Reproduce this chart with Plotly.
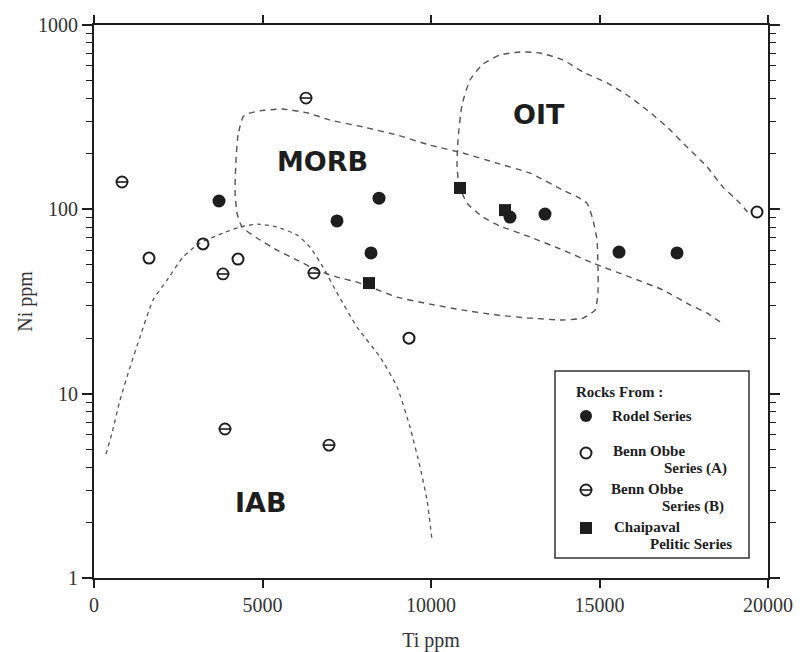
import plotly.graph_objects as go

# ---------------- data ----------------
rodel_ti = [3709, 7211, 8457, 8220, 12344, 13383, 15579, 17300]
rodel_ni = [111, 86.5, 115, 58, 90.8, 94.3, 58.6, 58]

bennA_ti = [1632, 3234, 4273, 9347, 19674]
bennA_ni = [54.4, 64.9, 53.7, 20.0, 96.7]

bennB_ti = [831, 6291, 3828, 6528, 3887, 6973]
bennB_ni = [140.7, 401.6, 44.6, 45.1, 6.43, 5.26]

chai_ti = [10861, 12196, 8160]
chai_ni = [130.6, 99, 39.8]

# field boundaries (Ti ppm, Ni ppm)
iab_ti = [356, 534, 772, 1068, 1365, 1751, 2166, 2641, 3145, 3828, 4332, 4866, 5430,
          6024, 6409, 6795, 7211, 7804, 8487, 8991, 9377, 9674, 9881, 10030]
iab_ni = [4.70, 6.11, 9.22, 13.9, 20.3, 32.2, 41.3, 55.1, 65.6, 74.3, 80.2, 83.2, 80.2,
          72.6, 62.4, 48.6, 35.2, 23.0, 15.8, 10.9, 6.59, 4.00, 2.65, 1.61]

morb_ti = [4421, 4273, 4214, 4184, 4243, 4392, 4837, 5430, 6024, 6617, 7211, 7804, 8279,
           8991, 9970, 10950, 11958, 12938, 13917, 14510, 14866, 14955, 14955, 14926,
           14807, 14629, 14332, 13917, 12938, 11958, 10950, 9970, 8991, 7982, 7003, 6350,
           5579, 4866, 4540, 4421]
morb_ni = [317, 253, 185, 127, 95.5, 80.2, 69.9, 60.1, 53.1, 46.8, 42.9, 40.3, 37.4,
           33.4, 30.6, 28.4, 26.7, 25.7, 25.1, 25.7, 28.4, 35.2, 48.6, 68.1,
           87.5, 108, 117, 127, 157, 178, 202, 223, 253, 280, 305, 333,
           350, 341, 329, 317]

oit_ti = [18576, 18190, 17685, 16884, 15905, 14807, 13917, 12938, 12047, 11543, 11068,
          10831, 10772, 10801, 10920, 11157, 11543, 12047, 12641, 13234, 13917, 14510,
          15223, 15816, 16409, 17003, 17596, 18190, 18665, 19169, 19466]
oit_ni = [24.5, 27.4, 30.3, 36.5, 42.9, 51.1, 60.1, 70.8, 81.2, 90.8, 108,
          135.5, 174, 238, 368, 503, 614, 687, 714, 705, 646, 556,
          485, 417, 346, 280, 218, 170, 132, 108, 93.1]

x_ticks = [0, 5000, 10000, 15000, 20000]
y_ticks = [1, 10, 100, 1000]
y_minor = [2, 3, 4, 5, 6, 7, 8, 9, 20, 30, 40, 50, 60, 70, 80, 90,
           200, 300, 400, 500, 600, 700, 800, 900]

legend_title = "Rocks From :"
legend_labels = ["Rodel Series", "Benn Obbe", "Series (A)", "Benn Obbe", "Series (B)",
                 "Chaipaval", "Pelitic Series"]

INK = "#1e1e1e"
DASH = "#555555"
SERIF = "Liberation Serif, Times New Roman, serif"
SANS = "DejaVu Sans, Arial, sans-serif"

# plot-area pixel geometry (used only to place legend items in paper fractions)
L, R, T, B = 94, 768, 25, 578
def px(x): return (x - L) / (R - L)
def py(y): return (B - y) / (B - T)

fig = go.Figure()

# boundaries
fig.add_trace(go.Scatter(x=iab_ti, y=iab_ni, mode="lines", line=dict(color=DASH, width=1.3, dash="4px,4px",
                         shape="spline", smoothing=0.5), hoverinfo="skip"))
fig.add_trace(go.Scatter(x=morb_ti, y=morb_ni, mode="lines", line=dict(color=DASH, width=1.4, dash="6px,5px",
                         shape="spline", smoothing=0.5), hoverinfo="skip"))
fig.add_trace(go.Scatter(x=oit_ti, y=oit_ni, mode="lines", line=dict(color=DASH, width=1.4, dash="6px,5px",
                         shape="spline", smoothing=0.5), hoverinfo="skip"))

# data points
fig.add_trace(go.Scatter(x=rodel_ti, y=rodel_ni, mode="markers", name="Rodel Series",
                         marker=dict(symbol="circle", size=13, color=INK, line=dict(width=0))))
fig.add_trace(go.Scatter(x=bennA_ti, y=bennA_ni, mode="markers", name="Benn Obbe Series (A)",
                         marker=dict(symbol="circle-open", size=11, color=INK, line=dict(width=2, color=INK))))
fig.add_trace(go.Scatter(x=bennB_ti, y=bennB_ni, mode="markers", name="Benn Obbe Series (B)",
                         marker=dict(symbol="circle-open", size=11, color=INK, line=dict(width=1.8, color=INK))))
fig.add_trace(go.Scatter(x=bennB_ti, y=bennB_ni, mode="markers", hoverinfo="skip",
                         marker=dict(symbol="line-ew", size=9, color=INK, line=dict(width=1.6, color=INK))))
fig.add_trace(go.Scatter(x=chai_ti, y=chai_ni, mode="markers", name="Chaipaval Pelitic Series",
                         marker=dict(symbol="square", size=12, color=INK, line=dict(width=0))))

# legend markers on an overlay axis (0..1 == plot area)
mx = [px(586)]
fig.add_trace(go.Scatter(x=mx, y=[py(416)], xaxis="x2", yaxis="y2", mode="markers",
                         marker=dict(symbol="circle", size=12, color=INK)))
fig.add_trace(go.Scatter(x=mx, y=[py(453)], xaxis="x2", yaxis="y2", mode="markers",
                         marker=dict(symbol="circle-open", size=11, color=INK, line=dict(width=2, color=INK))))
fig.add_trace(go.Scatter(x=mx, y=[py(490)], xaxis="x2", yaxis="y2", mode="markers",
                         marker=dict(symbol="circle-open", size=11, color=INK, line=dict(width=1.8, color=INK))))
fig.add_trace(go.Scatter(x=mx, y=[py(490)], xaxis="x2", yaxis="y2", mode="markers",
                         marker=dict(symbol="line-ew", size=9, color=INK, line=dict(width=1.6, color=INK))))
fig.add_trace(go.Scatter(x=mx, y=[py(528)], xaxis="x2", yaxis="y2", mode="markers",
                         marker=dict(symbol="square", size=12, color=INK)))

annotations = []
# field labels
for txt, xv, yv in [("MORB", 6766, 2.257), ("OIT", 13205, 2.512), ("IAB", 4955, 0.412)]:
    annotations.append(dict(x=xv, y=yv, xref="x", yref="y", text="<b>" + txt + "</b>", showarrow=False,
                            font=dict(family=SANS, size=27, color=INK)))

# legend texts (paper coords)
leg_pos = [(611, 416, "left"), (612, 451, "left"), (728, 468, "right"),
           (610, 489, "left"), (725, 506, "right"), (613, 527, "left"),
           (733, 544, "right")]
annotations.append(dict(x=px(575), y=py(392), xref="paper", yref="paper", text="<b>" + legend_title + "</b>",
                        showarrow=False, xanchor="left", yanchor="middle", borderpad=0,
                        font=dict(family=SERIF, size=15, color=INK)))
for (ax, ay, anc), lab in zip(leg_pos, legend_labels):
    annotations.append(dict(x=px(ax), y=py(ay), xref="paper", yref="paper", text="<b>" + lab + "</b>",
                            showarrow=False, xanchor=anc, yanchor="middle", borderpad=0,
                            font=dict(family=SERIF, size=15, color=INK)))

fig.update_layout(
    width=801, height=652,
    margin=dict(l=L, r=801 - R, t=T, b=652 - B, autoexpand=False),
    paper_bgcolor="white", plot_bgcolor="white",
    showlegend=False,
    font=dict(family=SERIF, size=20, color="#333333"),
    xaxis=dict(range=[0, 20000], tickvals=x_ticks, ticktext=[str(v) for v in x_ticks],
               showgrid=False, zeroline=False, showline=True, linecolor=INK, linewidth=2,
               mirror="allticks", ticks="outside", ticklen=8, tickwidth=1.5, tickcolor=INK,
               automargin=False,
               title=dict(text="Ti ppm", font=dict(family=SERIF, size=20, color="#333333"), standoff=18),
               tickfont=dict(family=SERIF, size=20, color="#333333")),
    yaxis=dict(type="log", range=[0, 3], tickvals=y_ticks, ticktext=[str(v) for v in y_ticks],
               showgrid=False, zeroline=False, showline=True, linecolor=INK, linewidth=2,
               mirror="allticks", ticks="outside", ticklen=10, tickwidth=1.5, tickcolor=INK,
               automargin=False,
               minor=dict(tickvals=y_minor, ticks="outside", ticklen=6, tickwidth=1.3, tickcolor=INK, showgrid=False),
               title=dict(text="Ni ppm", font=dict(family=SERIF, size=20, color="#333333"), standoff=0),
               tickfont=dict(family=SERIF, size=20, color="#333333")),
    xaxis2=dict(range=[0, 1], overlaying="x", visible=False, fixedrange=True),
    yaxis2=dict(range=[0, 1], overlaying="y", visible=False, fixedrange=True),
    annotations=annotations,
    shapes=[dict(type="rect", xref="paper", yref="paper", x0=px(555), x1=px(749), y0=py(558), y1=py(371),
                 line=dict(color="#333333", width=1.5), fillcolor="rgba(0,0,0,0)", layer="below")],
)

fig.write_html("out.html")
